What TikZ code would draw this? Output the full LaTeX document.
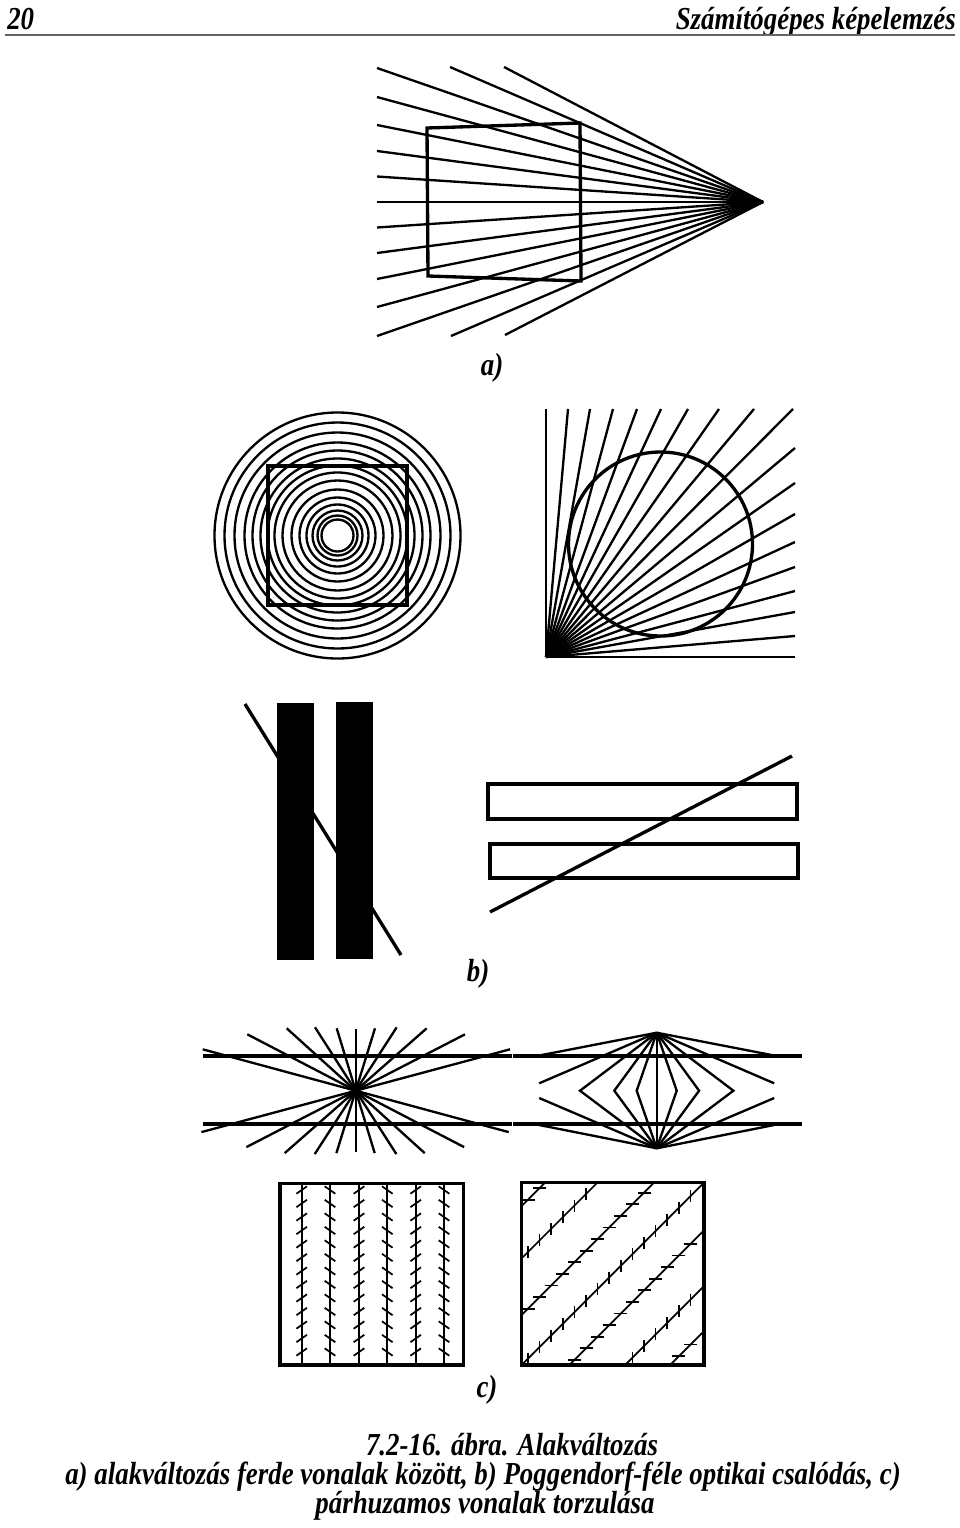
\documentclass[tikz,border=0pt]{standalone}
\usepackage{fontspec}
\setmainfont{Liberation Serif}[FakeStretch=0.84]
\begin{document}
\begin{tikzpicture}[x=0.75pt,y=-0.75pt,line cap=butt,
  thin/.style={line width=1.75pt},
  thk/.style={line width=2.5pt},
  tick/.style={line width=1.3pt},
  lbl/.style={inner sep=0pt,font=\fontsize{24}{28}\selectfont\bfseries\itshape},
  captxt/.style={inner sep=0pt,text height=16pt,text depth=4pt,font=\fontsize{24}{28}\selectfont\bfseries\itshape},
  hdr/.style={inner sep=0pt,font=\fontsize{24}{28}\selectfont\bfseries\itshape}]
\useasboundingbox[fill=white] (0,0) rectangle (960,1528);
% header
\node[hdr,anchor=base west] (pg) at (7,29) {20};
\node[hdr,anchor=base east] (ttl) at (956,29) {Számítógépes képelemzés};
\draw[line width=1.1pt,black!60] (5,35) -- (955,35);
% ---------- a)
\coordinate (V) at (763,202);
\foreach \d in {-134,-105,-77,-51,-25.5,0,25.5,51,77,105,134}
  \draw[thin] (V) -- (377,202+\d);
\draw[thin] (V) -- (450,67);
\draw[thin] (V) -- (504,67);
\draw[thin] (V) -- (451,336);
\draw[thin] (V) -- (505,335);
\draw[thk,line join=miter] (427,128) -- (580,123) -- (581,281) -- (428,276) -- cycle;
\node[lbl] (la) at (492,368) {a)};
% ---------- b) circles
\foreach \r in {123,113,103,93,85,77,70,63,55,46,38,31,25,20,16}
  \draw[thin] (337.5,535.5) circle[radius=\r];
\draw[thk] (268,466) rectangle (407,605);
% ---------- b) fan
\coordinate (O) at (546,657);
\foreach \x in {546,568,590,613,637,661,688,719,754,793}
  \draw[thin] (O) -- (\x,409);
\foreach \y in {448,483,514,542,567,591,612,636,657}
  \draw[thin] (O) -- (795,\y);
\draw[thk] (660.5,544) circle[radius=92];
% ---------- b) Poggendorf
\draw[thk] (245,704) -- (401,955);
\fill (277,703) rectangle (314,960);
\fill (336,702) rectangle (373,959);
\draw[thk] (488,784) rectangle (797,819);
\draw[thk] (490,844) rectangle (798,878);
\draw[thk] (490,912) -- (792,756);
\node[lbl] (lb) at (478,974) {b)};
% ---------- c) Hering
\draw[thk] (203,1056) -- (512,1056);
\draw[thk] (203,1124) -- (512,1124);
\coordinate (C) at (355.7,1090.7);
\foreach \x/\y in {202.7/1049.3,247.3/1034.3,286.7/1028.3,315/1027.3,336.7/1028.3,355.7/1029.3,375/1028.3,396.7/1027.3,426.7/1028.3,465/1034.3,510/1049.3}
  \draw[thin] (\x,\y) -- (711.4-\x,2181.4-\y);
% ---------- c) Wundt
\draw[thk] (513,1056) -- (802,1056);
\draw[thk] (513,1124) -- (802,1124);
\coordinate (T) at (656.7,1032.7);
\coordinate (B) at (656.7,1148.3);
\draw[thin] (T) -- (B);
\foreach \m in {20,42.4,76.7}{
  \draw[thin,line join=miter] (T) -- (656.7-\m,1090.7) -- (B);
  \draw[thin,line join=miter] (T) -- (656.7+\m,1090.7) -- (B);
}
\foreach \s in {-1,1}{
  \draw[thin] (T) -- (656.7+\s*117.5,1055.5);
  \draw[thin] (T) -- (656.7+\s*117.5,1083.3);
  \draw[thin] (B) -- (656.7+\s*117.5,1098);
  \draw[thin] (B) -- (656.7+\s*117.5,1125);
}
% ---------- c) Zollner vertical
\draw[thk] (280,1183.3) rectangle (463.3,1365);
\foreach \x [count=\c] in {301.7,330,359,387.3,415.7,444}{
  \draw[tick] (\x,1183.3) -- (\x,1365);
  \pgfmathsetmacro\sg{ifthenelse(mod(\c,2)==1,1,-1)}
  \foreach \i in {0,...,12}{
    \pgfmathsetmacro\yy{1190+13.5*\i}
    \draw[tick] (\x-5.3,\yy+3.7*\sg) -- (\x+5.3,\yy-3.7*\sg);
  }
}
% ---------- c) Zollner diagonal
\draw[thk] (521.7,1182.3) rectangle (704,1365);
\begin{scope}
\clip (521.7,1182.3) rectangle (704,1365);
\foreach \k/\t in {1727.7/0,1780/1,1836.7/0,1886.7/1,1934.3/0,1990/1,2035/0}{
  \draw[tick] (\k-1182.3+20,1162.3) -- (\k-1365-20,1385);
}
\end{scope}
\foreach \k/\t in {1727.7/0,1780/1,1836.7/0,1886.7/1,1934.3/0,1990/1,2035/0}{
  \pgfmathsetmacro\xmin{max(521.7,\k-1365)}
  \pgfmathsetmacro\xmax{min(704,\k-1182.3)}
  \foreach \i in {0,...,16}{
    \pgfmathsetmacro\xx{528+11.6*\i}
    \pgfmathtruncatemacro\ok{(\xx>\xmin+3)&&(\xx<\xmax-3)}
    \ifnum\ok=1
      \pgfmathsetmacro\yy{\k-\xx}
      \ifnum\t=1
        \draw[tick] (\xx,\yy-6) -- (\xx,\yy+6);
      \else
        \draw[tick] (\xx-6.5,\yy) -- (\xx+6.5,\yy);
      \fi
    \fi
  }
}
\node[lbl] (lc) at (487,1390) {c)};
% ---------- caption
\node[captxt,anchor=base] (cap1) at (512,1455) {7.2-16. ábra. Alakváltozás};
\node[captxt,anchor=base] (cap2) at (483,1484) {a) alakváltozás ferde vonalak között, b) Poggendorf-féle optikai csalódás, c)};
\node[captxt,anchor=base] (cap3) at (485,1513) {párhuzamos vonalak torzulása};
\end{tikzpicture}
\end{document}
